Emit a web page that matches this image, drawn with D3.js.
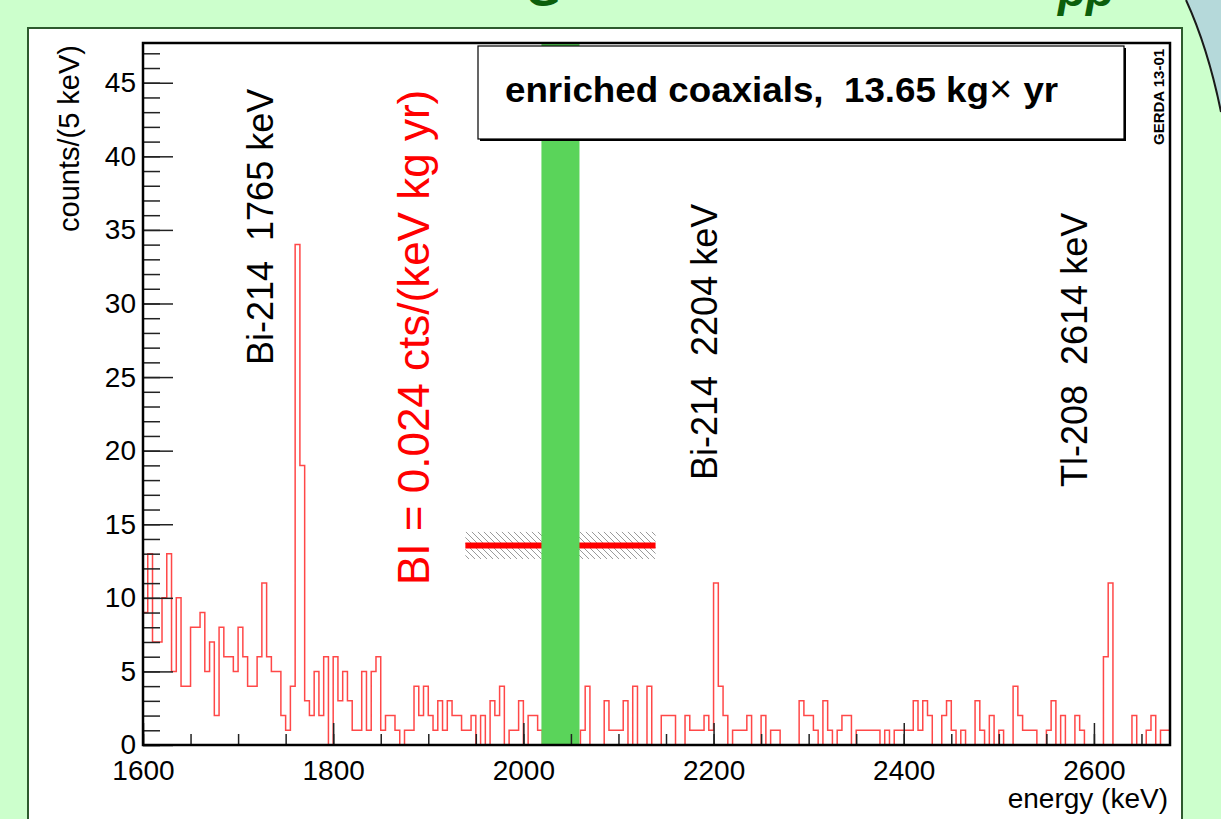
<!DOCTYPE html>
<html lang="en">
<head>
<meta charset="UTF-8">
<title>GERDA enriched coaxials spectrum</title>
<script src="https://d3js.org/d3.v7.min.js"></script>
<style>
    html, body { margin: 0; padding: 0; background: #ccffcc; overflow: hidden; }
    svg { display: block; font-family: "Liberation Sans", Arial, sans-serif; }
    .tick line { stroke: #222; stroke-width: 1.5px; }
    .tick text { font-size: 28px; fill: #000; }
</style>
</head>
<body>
<svg id="chart" width="1221" height="819"></svg>
<script>
// counts per 5 keV bin, 1600 .. 2680 keV
const binEdges = d3.range(1600, 2680, 5);
const counts = [
    9, 13, 7, 7, 10, 13, 5, 10, 4, 4, 8, 8, 9, 5, 7, 2, 8, 6, 6, 5,
    8, 6, 4, 4, 6, 11, 6, 5, 5, 2, 1, 4, 34, 19, 3, 2, 5, 2, 6, 0,
    6, 3, 5, 3, 1, 1, 5, 1, 5, 6, 1, 2, 2, 1, 0, 1, 1, 4, 2, 4,
    2, 1, 3, 1, 3, 2, 2, 1, 1, 2, 0, 2, 0, 3, 2, 4, 0, 1, 1, 3,
    0, 2, 2, 1, 0, 0, 0, 0, 0, 0, 0, 0, 1, 4, 0, 0, 0, 3, 1, 1,
    1, 3, 0, 4, 0, 0, 4, 0, 0, 2, 2, 2, 0, 0, 2, 1, 1, 1, 2, 1,
    11, 4, 2, 0, 1, 1, 1, 2, 0, 0, 2, 0, 1, 1, 0, 0, 0, 0, 3, 2,
    2, 1, 0, 3, 1, 0, 1, 2, 2, 0, 1, 1, 1, 1, 1, 0, 1, 0, 1, 1,
    1, 1, 3, 1, 3, 2, 0, 0, 2, 3, 1, 0, 1, 0, 0, 3, 1, 0, 2, 0,
    1, 0, 0, 4, 2, 1, 1, 1, 0, 0, 1, 3, 0, 2, 0, 0, 2, 1, 0, 0,
    0, 0, 6, 11, 0, 0, 0, 0, 2, 0, 0, 1, 2, 0, 1, 1
];
const xDomain = [1600, 2680];
const yDomain = [0, 47.7];
const xMajorTicks = [1600, 1800, 2000, 2200, 2400, 2600];
const xMinorTicks = d3.range(1600, 2680, 50);
const yMajorTicks = [0, 5, 10, 15, 20, 25, 30, 35, 40, 45];
const yMinorTicks = d3.range(0, 48, 1);

const blindWindow = [2019, 2059];
const biWindow = [1939, 2139];
const biLevel = 13.56;
const biErr = 0.92;

const legendText = "enriched coaxials,  13.65 kg";
const legendUnit = "yr";
const biLabel = "BI = 0.024 cts/(keV kg yr)";
const lineLabels = ["Bi-214  1765 keV", "Bi-214  2204 keV", "Tl-208  2614 keV"];

const svg = d3.select("#chart");
const plot = { left: 143, right: 1170, top: 43, bottom: 745 };

const x = d3.scaleLinear().domain(xDomain).range([plot.left, plot.right]);
const y = d3.scaleLinear().domain(yDomain).range([plot.bottom, plot.top]);

// slide decoration: blue circle top-right, cut-off title
svg.append("path")
    .attr("d", "M1186,0 Q1208,48 1221,112 L1221,0 Z")
    .attr("fill", "#b5d9da");
svg.append("path")
    .attr("d", "M1186,0 Q1208,48 1221,112")
    .attr("fill", "none").attr("stroke", "#1a1a1a").attr("stroke-width", 2);
svg.append("text").attr("x", 526).attr("y", 6)
    .attr("font-size", 46).attr("font-weight", "bold").attr("font-style", "italic")
    .attr("fill", "#0b5e0b").text("G");
svg.append("text").attr("x", 1058).attr("y", 6)
    .attr("font-size", 46).attr("font-weight", "bold").attr("font-style", "italic")
    .attr("fill", "#0b5e0b").text("pp");

// white pad
svg.append("rect")
    .attr("x", 28).attr("y", 28).attr("width", 1154).attr("height", 820)
    .attr("fill", "#fff").attr("stroke", "#2d5a2d").attr("stroke-width", 2);

// hatch pattern for BI error band
const defs = svg.append("defs");
defs.append("pattern")
    .attr("id", "hatch").attr("patternUnits", "userSpaceOnUse")
    .attr("width", 6).attr("height", 6)
    .append("path")
    .attr("d", "M0,0 L6,6 M-1,5 L1,7 M5,-1 L7,1")
    .attr("stroke", "#9a9a9a").attr("stroke-width", 1);

// histogram
const pts = [[xDomain[0], 0]];
binEdges.forEach((e, i) => pts.push([e, counts[i]]));
pts.push([xDomain[1], counts[counts.length - 1]]);
const step = d3.line().x(d => x(d[0])).y(d => y(d[1])).curve(d3.curveStepAfter);
svg.append("path")
    .attr("d", step(pts))
    .attr("fill", "none").attr("stroke", "#ff1a1a")
    .attr("stroke-width", 1.5).attr("stroke-opacity", 0.8);

// BI band and line
svg.append("rect")
    .attr("x", x(biWindow[0])).attr("width", x(biWindow[1]) - x(biWindow[0]))
    .attr("y", y(biLevel + biErr)).attr("height", y(biLevel - biErr) - y(biLevel + biErr))
    .attr("fill", "url(#hatch)");
svg.append("line")
    .attr("x1", x(biWindow[0])).attr("x2", x(biWindow[1]))
    .attr("y1", y(biLevel)).attr("y2", y(biLevel))
    .attr("stroke", "#ff0000").attr("stroke-width", 6);

// blinded window
svg.append("rect")
    .attr("x", x(blindWindow[0])).attr("width", x(blindWindow[1]) - x(blindWindow[0]))
    .attr("y", plot.top).attr("height", plot.bottom - plot.top)
    .attr("fill", "#5ad45a");

// axes
const yMinor = svg.append("g").attr("transform", `translate(${plot.left},0)`)
    .call(d3.axisLeft(y).tickValues(yMinorTicks).tickSize(-17).tickFormat(""));
const yMajor = svg.append("g").attr("transform", `translate(${plot.left},0)`)
    .call(d3.axisLeft(y).tickValues(yMajorTicks).tickSize(-30).tickPadding(7).tickFormat(d3.format("d")));
const xMinor = svg.append("g").attr("transform", `translate(0,${plot.bottom})`)
    .call(d3.axisBottom(x).tickValues(xMinorTicks).tickSize(-11).tickFormat(""));
const xMajor = svg.append("g").attr("transform", `translate(0,${plot.bottom})`)
    .call(d3.axisBottom(x).tickValues(xMajorTicks).tickSize(-22).tickPadding(15).tickFormat(d3.format("d")));
[yMinor, yMajor, xMinor, xMajor].forEach(g => {
    g.select(".domain").remove();
    g.attr("font-family", null).attr("font-size", null);
});

// legend box
svg.append("rect").attr("x", 480).attr("y", 48).attr("width", 646).attr("height", 93).attr("fill", "#000");
svg.append("rect").attr("x", 478).attr("y", 46).attr("width", 646).attr("height", 93)
    .attr("fill", "#fff").attr("stroke", "#000").attr("stroke-width", 1.2);
const leg = svg.append("text").attr("transform", "translate(505,102) scale(1.05,1)")
    .attr("font-size", 35).attr("font-weight", "bold").style("white-space", "pre");
leg.append("tspan").text(legendText);
leg.append("tspan").attr("font-weight", "normal").attr("font-size", 38).text("\u00d7 ");
leg.append("tspan").text(legendUnit);

// frame
svg.append("rect")
    .attr("x", plot.left).attr("y", plot.top)
    .attr("width", plot.right - plot.left).attr("height", plot.bottom - plot.top)
    .attr("fill", "none").attr("stroke", "#000").attr("stroke-width", 2.5);

// GERDA stamp
svg.append("text")
    .attr("transform", "translate(1164,145) rotate(-90)")
    .attr("font-size", 15).attr("font-weight", "bold").text("GERDA 13-01");

// axis titles
svg.append("text")
    .attr("transform", "translate(79,45) rotate(-90)")
    .attr("text-anchor", "end").attr("font-size", 29).style("white-space", "pre")
    .text("counts/(5 keV)");
svg.append("text")
    .attr("x", plot.right - 2).attr("y", 808)
    .attr("text-anchor", "end").attr("font-size", 28)
    .text("energy (keV)");

// line annotations
const annPos = [[273, 365], [717, 480], [1087, 487]];
lineLabels.forEach((t, i) => {
    svg.append("text")
        .attr("transform", `translate(${annPos[i][0]},${annPos[i][1]}) rotate(-90)`)
        .attr("font-size", 36).style("white-space", "pre").text(t);
});
svg.append("text")
    .attr("transform", "translate(429,585) rotate(-90)")
    .attr("font-size", 44).attr("fill", "#ff0000").text(biLabel);
</script>
</body>
</html>
